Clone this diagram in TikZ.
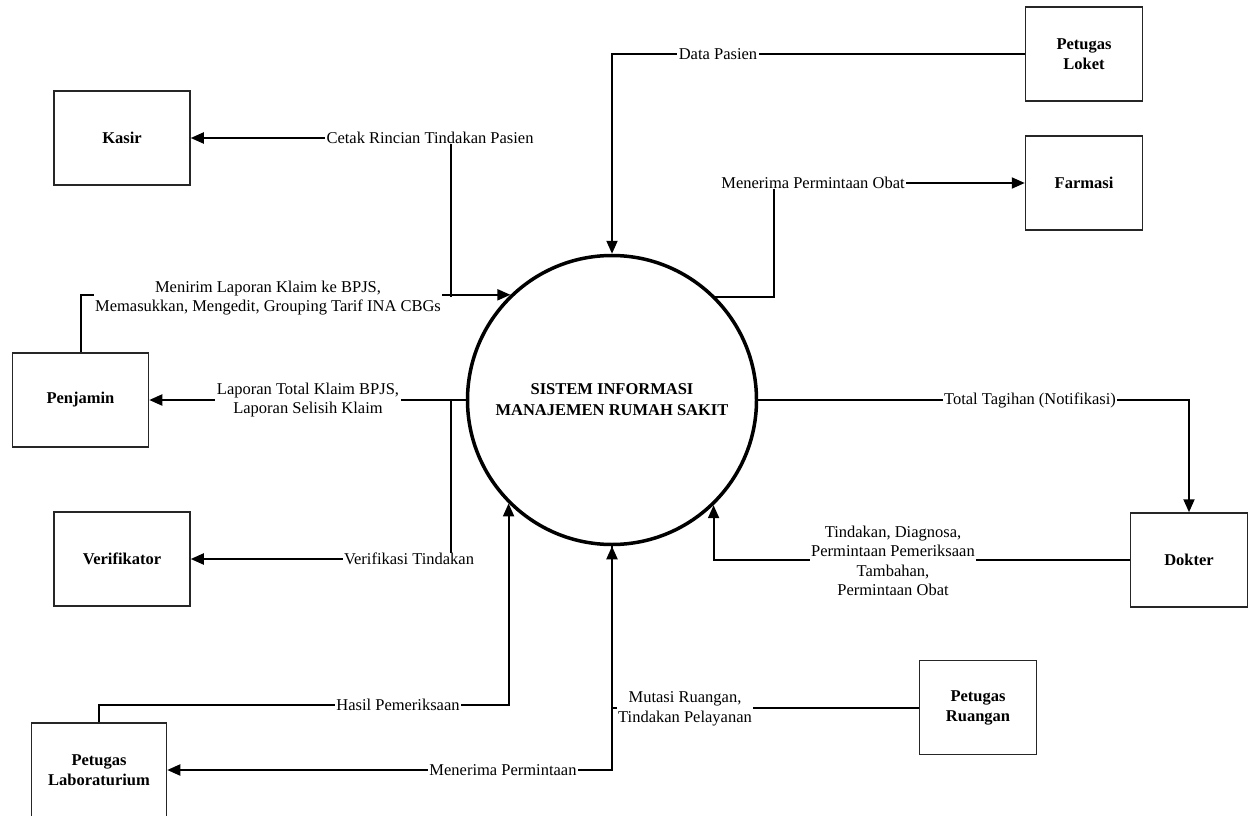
\documentclass[tikz,border=0pt]{standalone}
\usepackage{fontspec}
\setmainfont{Liberation Serif}
\usetikzlibrary{arrows.meta}
\begin{document}
\begin{tikzpicture}[x=1pt,y=-1pt,
  ent/.style={draw=black!85, line width=1.5pt, minimum width=117pt, minimum height=94pt, align=center,
    font=\fontsize{16.5}{20}\selectfont\bfseries, inner sep=0pt},
  wide/.style={ent, minimum width=136pt},
  flow/.style={line width=2pt, -{Triangle[length=13pt,width=11pt]}},
  lbl/.style={fill=white, inner xsep=1.5pt, inner ysep=0.5pt, align=center,
    font=\fontsize{16.5}{19.5}\selectfont}]
\useasboundingbox (0,0) rectangle (1253,816);

% entities
\node[wide] (kasir) at (122,138) {Kasir};
\node[wide] (penjamin) at (80.5,400) {Penjamin};
\node[wide] (verif) at (122,559) {Verifikator};
\node[wide, minimum width=135pt] (lab) at (99,770) {Petugas\\Laboraturium};
\node[ent] (loket) at (1084,54) {Petugas\\Loket};
\node[ent] (farmasi) at (1084,183) {Farmasi};
\node[ent] (dokter) at (1189,560) {Dokter};
\node[ent] (ruangan) at (978,707.5) {Petugas\\Ruangan};

% process
\node[circle, draw, line width=3.5pt, minimum size=289pt, inner sep=0pt, align=center,
  font=\fontsize{16.5}{21}\selectfont\bfseries] (sys) at (612,400)
  {SISTEM INFORMASI\\MANAJEMEN RUMAH SAKIT};

\coordinate (kj) at (451,297);
\coordinate (vj) at (451,400);
\coordinate (hc) at (0,705);

% connectors
\draw[flow] (loket.west) -| (sys.north);
\draw[flow] (sys.45.3) -- ++(59,0) |- (farmasi.west);
\draw[flow] (sys.east) -| (dokter.north);
\draw[flow] (dokter.west) -| (sys.314.7);
\draw[flow] (ruangan.west) -| (sys.south);
\draw[flow] (sys.south) |- (lab.east);
\draw[flow] (lab.north) |- (sys.225.8 |- hc) -- (sys.225.8);
\draw[flow] (penjamin.north) |- (sys.134.4);
\draw[flow] (sys.west) -- (penjamin.east);
\draw[flow] (kj) |- (kasir.east);
\draw[flow] (vj) |- (verif.east);

% labels
\node[lbl] (dp) at (718,54) {Data Pasien};
\node[lbl] (mpo) at (813,183) {Menerima Permintaan Obat};
\node[lbl] (tt) at (1030,400) {Total Tagihan (Notifikasi)};
\node[lbl] (tdx) at (893,561) {Tindakan, Diagnosa,\\Permintaan Pemeriksaan\\Tambahan,\\Permintaan Obat};
\node[lbl] (mr) at (685,709) {Mutasi Ruangan,\\Tindakan Pelayanan};
\node[lbl] (mp) at (503,770) {Menerima Permintaan};
\node[lbl] (hp) at (398,705) {Hasil Pemeriksaan};
\node[lbl] (ml) at (268,298) {Menirim Laporan Klaim ke BPJS,\\Memasukkan, Mengedit, Grouping Tarif INA CBGs};
\node[lbl] (lt) at (308,400) {Laporan Total Klaim BPJS,\\Laporan Selisih Klaim};
\node[lbl] (cr) at (430,138) {Cetak Rincian Tindakan Pasien};
\node[lbl] (vt) at (409,559) {Verifikasi Tindakan};
\end{tikzpicture}
\end{document}
